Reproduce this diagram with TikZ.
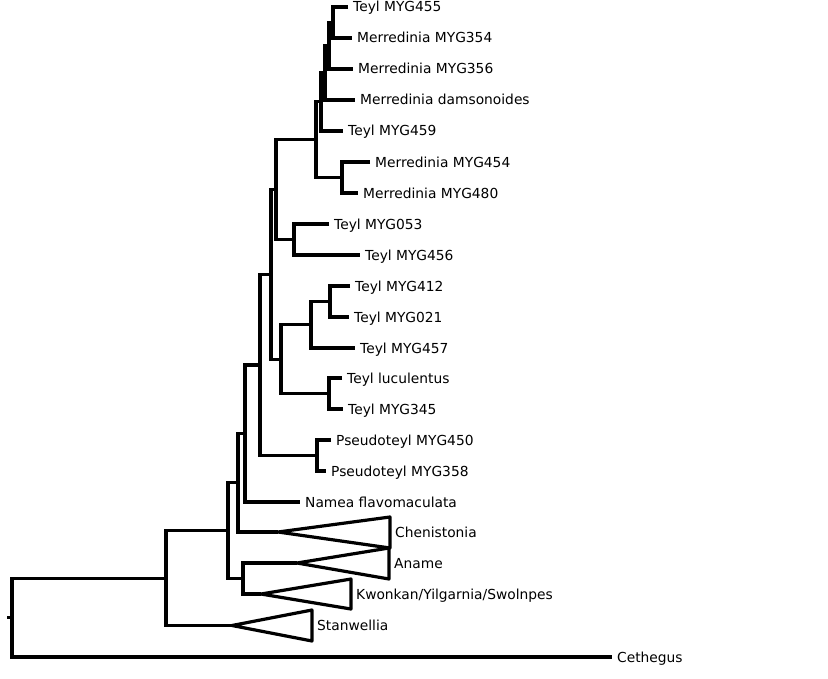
\documentclass[tikz,border=0pt]{standalone}
\usepackage{fontspec}
\setmainfont{DejaVu Sans}
\begin{document}
\begin{tikzpicture}[x=1bp,y=-1bp,
  br/.style={line width=3.2bp, line join=miter},
  tri/.style={line width=3.2bp, line join=round},
  lab/.style={anchor=west, inner xsep=5bp, inner ysep=0pt, text height=10bp, text depth=0pt,
              font=\fontsize{13.8bp}{16bp}\selectfont}]
\useasboundingbox[fill=white] (0,0) rectangle (828,679);
% tips
\node[lab] (t455) at (348,7) {Teyl MYG455};
\node[lab] (t354) at (352,38) {Merredinia MYG354};
\node[lab] (t356) at (353,69) {Merredinia MYG356};
\node[lab] (tdam) at (355,100) {Merredinia damsonoides};
\node[lab] (t459) at (343,131) {Teyl MYG459};
\node[lab] (t454) at (370,162) {Merredinia MYG454};
\node[lab] (t480) at (358,193) {Merredinia MYG480};
\node[lab] (t053) at (329,224) {Teyl MYG053};
\node[lab] (t456) at (360,255) {Teyl MYG456};
\node[lab] (t412) at (350,286) {Teyl MYG412};
\node[lab] (t021) at (349,317) {Teyl MYG021};
\node[lab] (t457) at (355,348) {Teyl MYG457};
\node[lab] (tluc) at (342,378) {Teyl luculentus};
\node[lab] (t345) at (343,409) {Teyl MYG345};
\node[lab] (p450) at (331,440) {Pseudoteyl MYG450};
\node[lab] (p358) at (326,471) {Pseudoteyl MYG358};
\node[lab] (nam) at (300,502) {Namea flavomaculata};
\node[lab] (cet) at (612,657) {Cethegus};
% collapsed clades
\coordinate (aChe) at (278,532);
\coordinate (aAna) at (297,563);
\coordinate (aKwo) at (261,594);
\coordinate (aSta) at (232,625.5);
\node[lab] (lChe) at (390,532.5) {Chenistonia};
\node[lab] (lAna) at (389,563.5) {Aname};
\node[lab] (lKwo) at (351,594) {Kwonkan/Yilgarnia/Swolnpes};
\node[lab] (lSta) at (312,625.5) {Stanwellia};
\draw[tri] (aChe) -- (390,517) -- (390,548) -- cycle;
\draw[tri] (aAna) -- (389,548) -- (389,579) -- cycle;
\draw[tri] (aKwo) -- (351,579) -- (351,609) -- cycle;
\draw[tri] (aSta) -- (312,610) -- (312,641) -- cycle;
% internal nodes
\coordinate (S) at (333,22.5);
\coordinate (R) at (329,45.75);
\coordinate (Q) at (325,72.9);
\coordinate (O) at (321,101.9);
\coordinate (P) at (342,177.5);
\coordinate (M) at (316,139.7);
\coordinate (N) at (294,239.5);
\coordinate (I) at (276,189.6);
\coordinate (L) at (330,301.5);
\coordinate (J) at (311,324.75);
\coordinate (K) at (329,393.5);
\coordinate (H) at (281,359.1);
\coordinate (G) at (271,274.4);
\coordinate (T) at (317,455.5);
\coordinate (F) at (260,364.9);
\coordinate (E) at (245,433.5);
\coordinate (C) at (238,482.7);
\coordinate (D) at (243,578.5);
\coordinate (B) at (228,530.6);
\coordinate (A) at (166,578.3);
\coordinate (root) at (12,617.6);
\coordinate (stub) at (7,617.6);
% branches
\draw[br] (t455.west) -| (S) |- (t354.west);
\draw[br] (S) -| (R) |- (t356.west);
\draw[br] (R) -| (Q) |- (tdam.west);
\draw[br] (Q) -| (O) |- (t459.west);
\draw[br] (t454.west) -| (P) |- (t480.west);
\draw[br] (O) -| (M) |- (P);
\draw[br] (t053.west) -| (N) |- (t456.west);
\draw[br] (M) -| (I) |- (N);
\draw[br] (t412.west) -| (L) |- (t021.west);
\draw[br] (L) -| (J) |- (t457.west);
\draw[br] (tluc.west) -| (K) |- (t345.west);
\draw[br] (J) -| (H) |- (K);
\draw[br] (I) -| (G) |- (H);
\draw[br] (p450.west) -| (T) |- (p358.west);
\draw[br] (G) -| (F) |- (T);
\draw[br] (F) -| (E) |- (nam.west);
\draw[br] (E) -| (C) |- (aChe);
\draw[br] (aAna) -| (D) |- (aKwo);
\draw[br] (C) -| (B) |- (D);
\draw[br] (B) -| (A) |- (aSta);
\draw[br] (A) -| (root) |- (cet.west);
\draw[br] (stub) -- (root);
\end{tikzpicture}
\end{document}
